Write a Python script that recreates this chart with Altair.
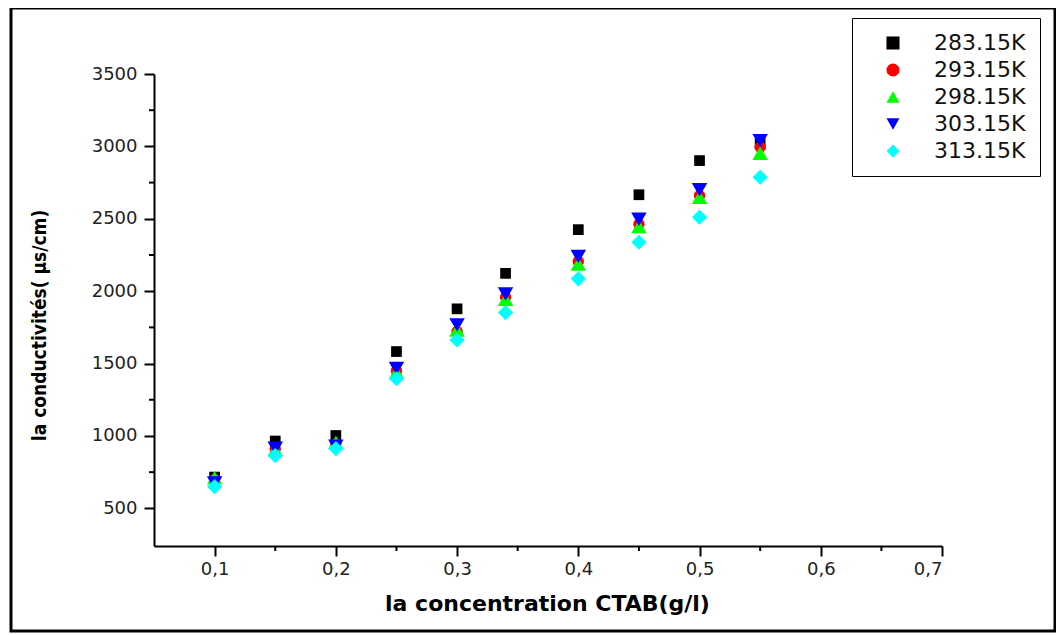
import altair as alt
import pandas as pd

# ---- data ----
conc = [0.1, 0.15, 0.2, 0.25, 0.3, 0.34, 0.4, 0.45, 0.5, 0.55]
k283 = [716, 965, 1003, 1583, 1878, 2123, 2425, 2666, 2902, 3020]
k293 = [700, 910, 945, 1450, 1722, 1958, 2205, 2462, 2660, 2995]
k298 = [711, 905, 955, 1440, 1732, 1944, 2188, 2446, 2649, 2953]
k303 = [675, 915, 930, 1467, 1767, 1981, 2239, 2497, 2700, 3040]
k313 = [650, 864, 912, 1395, 1663, 1852, 2085, 2338, 2511, 2787]

series_names = ["283.15K", "293.15K", "298.15K", "303.15K", "313.15K"]
series_vals = [k283, k293, k298, k303, k313]
series_colors = ["#000000", "#ff0000", "#00ff00", "#0000ff", "#00ffff"]
series_shapes = ["square", "circle", "triangle-up", "triangle-down", "diamond"]
series_sizes = [115, 130, 240, 240, 230]

x_major = [0.1, 0.2, 0.3, 0.4, 0.5, 0.6, 0.7]
x_minor = [0.15, 0.25, 0.35, 0.45, 0.55, 0.65]
y_major = [500, 1000, 1500, 2000, 2500, 3000, 3500]
y_minor = [750, 1250, 1750, 2250, 2750, 3250]

rows = []
for name, vals, sz in zip(series_names, series_vals, series_sizes):
    for c, v in zip(conc, vals):
        rows.append({"conc": c, "cond": v, "temp": name, "sz": sz})
df = pd.DataFrame(rows)

W, H = 788, 472

x_scale = alt.Scale(domain=[0.05, 0.7], nice=False, zero=False)
y_scale = alt.Scale(domain=[240, 3500], nice=False, zero=False)

x_axis = alt.Axis(
    values=x_major,
    labelExpr="replace(format(datum.value, '.1f'), '.', ',')",
    grid=False, domainColor="black", domainWidth=2,
    tickColor="black", tickWidth=2, tickSize=10,
    labelFont="DejaVu Sans", labelFontSize=18, labelColor="#222",
    labelPadding=4,
    title="la concentration CTAB(g/l)",
    titleFont="DejaVu Sans", titleFontSize=22, titleFontWeight="bold",
    titleColor="black", titleX=393, titleY=57, titleBaseline="middle",
)
y_axis = alt.Axis(
    values=y_major, format="d",
    grid=False, domainColor="black", domainWidth=2,
    tickColor="black", tickWidth=2, tickSize=10,
    labelFont="DejaVu Sans", labelFontSize=18, labelColor="#222",
    labelPadding=7,
    title="la conductivités( µs/cm)",
    titleFont="Liberation Sans Narrow, DejaVu Sans Condensed, Liberation Sans",
    titleFontSize=19, titleFontWeight="bold", titleColor="black",
    titleAngle=270, titleX=-115, titleY=251, titleBaseline="middle",
)

points = alt.Chart(df).mark_point(filled=True, opacity=1).encode(
    x=alt.X("conc:Q", scale=x_scale, axis=x_axis),
    y=alt.Y("cond:Q", scale=y_scale, axis=y_axis),
    color=alt.Color("temp:N",
                    scale=alt.Scale(domain=series_names, range=series_colors),
                    legend=alt.Legend(
                        title=None, orient="none", legendX=698, legendY=-56,
                        strokeColor="black", fillColor="white", padding=14,
                        symbolSize=170, symbolOffset=16, labelOffset=30,
                        rowPadding=5, labelFont="DejaVu Sans", labelFontSize=22,
                        labelColor="#111", symbolStrokeWidth=0,
                    )),
    shape=alt.Shape("temp:N",
                    scale=alt.Scale(domain=series_names, range=series_shapes)),
    size=alt.Size("sz:Q", scale=None, legend=None),
)

minor_x = alt.Chart(pd.DataFrame({"conc": x_minor})).mark_rule(
    color="black", strokeWidth=2).encode(
    x=alt.X("conc:Q", scale=x_scale, axis=x_axis),
    y=alt.value(H), y2=alt.value(H + 5),
)
minor_y = alt.Chart(pd.DataFrame({"cond": y_minor})).mark_rule(
    color="black", strokeWidth=2).encode(
    y=alt.Y("cond:Q", scale=y_scale, axis=y_axis),
    x=alt.value(-5), x2=alt.value(0),
)

frame = alt.Chart(pd.DataFrame({"a": [0]})).mark_rect(
    filled=False, stroke="black", strokeWidth=3).encode(
    x=alt.value(-143), x2=alt.value(901),
    y=alt.value(-66), y2=alt.value(557),
)

chart = alt.layer(frame, minor_x, minor_y, points).properties(
    width=W, height=H,
    autosize=alt.AutoSizeParams(type="none"),
    padding={"left": 146, "top": 66, "right": 114, "bottom": 87},
    background="white",
).configure_view(stroke=None)

chart.save("out.html", embed_options={"renderer": "svg", "actions": False})
